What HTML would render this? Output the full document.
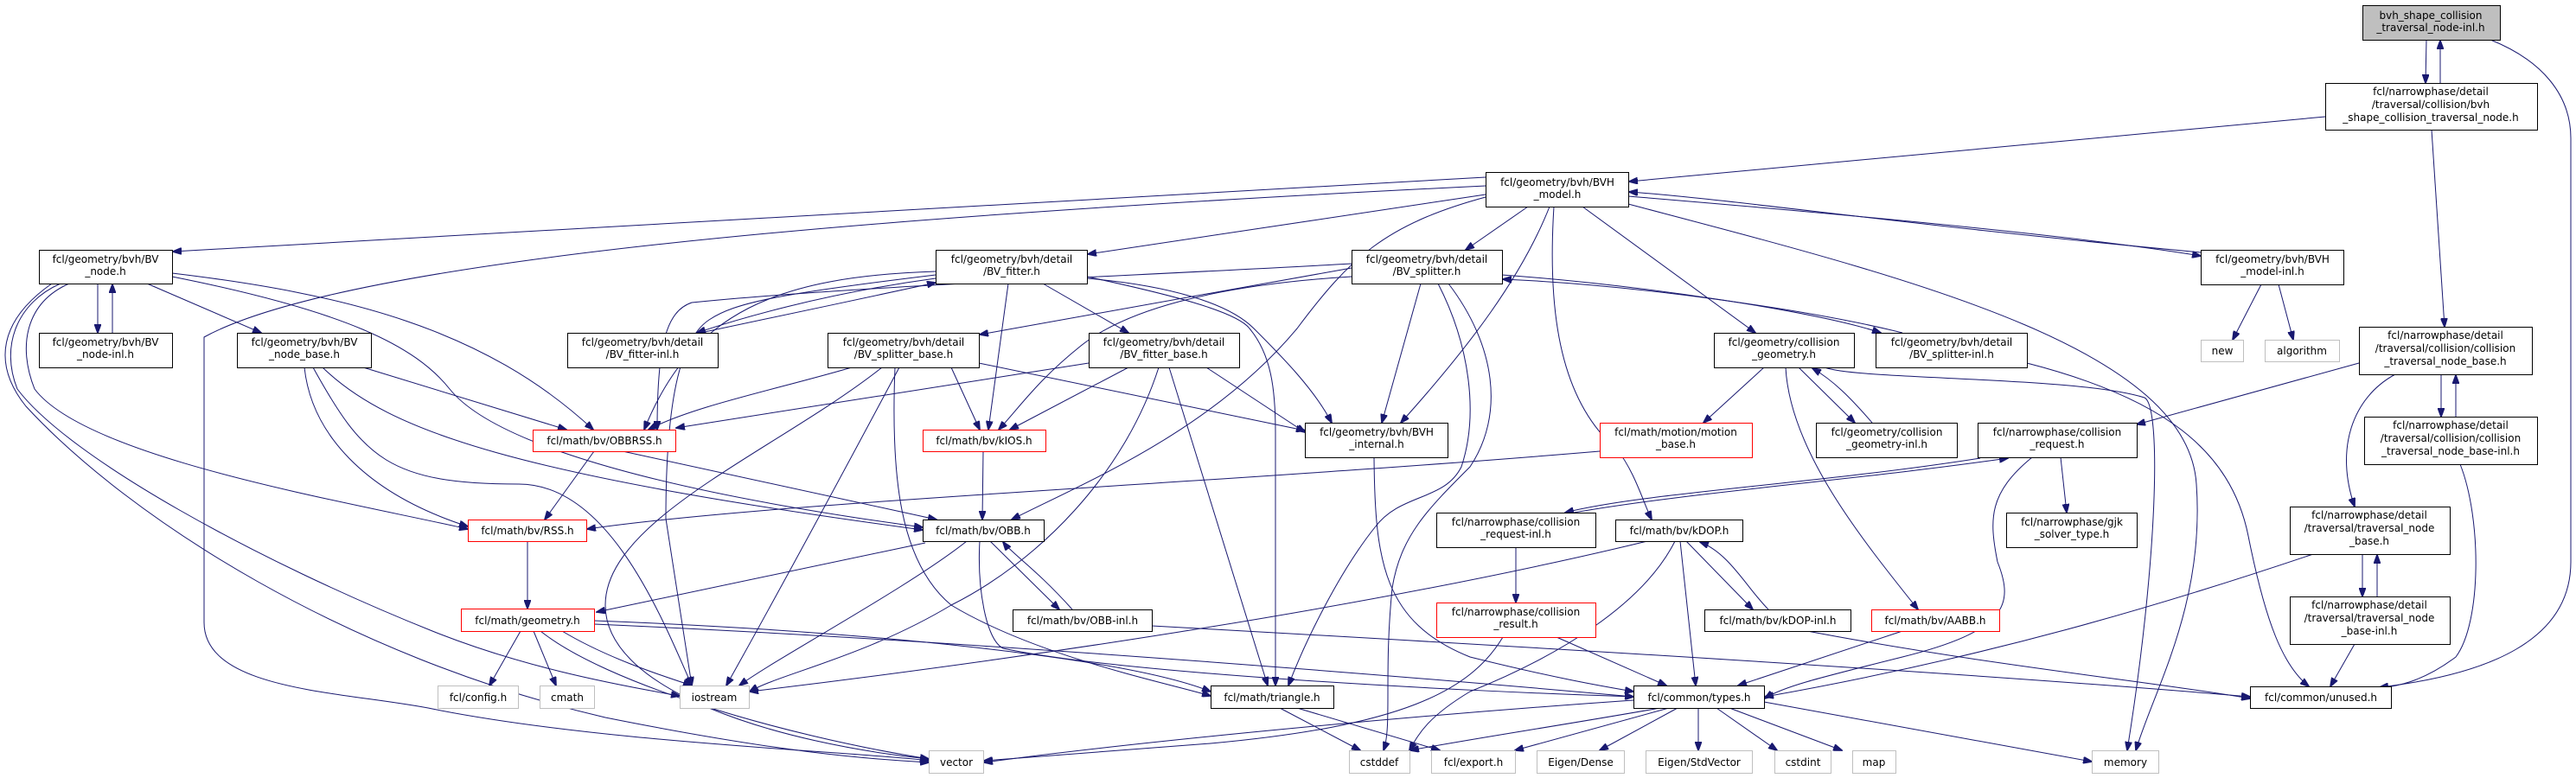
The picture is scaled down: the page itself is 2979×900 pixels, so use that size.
<!DOCTYPE html>
<html><head><meta charset="utf-8"><style>
html,body{margin:0;padding:0;background:#fff;}
svg{display:block;}
text{font-family:"DejaVu Sans","Liberation Sans",sans-serif;font-size:12px;fill:#000;text-anchor:middle;}
.n{fill:#fff;stroke:#000;stroke-width:1;}
.g{fill:#fff;stroke:#bfbfbf;stroke-width:1;}
.r{fill:#fff;stroke:#ff0000;stroke-width:1;}
.e path{fill:none;stroke:#191970;stroke-width:1;marker-end:url(#ah);}
</style></head><body>
<svg width="2979" height="900" viewBox="0 0 2979 900" xmlns="http://www.w3.org/2000/svg">
<defs><marker id="ah" markerUnits="userSpaceOnUse" markerWidth="11" markerHeight="8" refX="10" refY="4" orient="auto"><path d="M0,0 L11,4 L0,8 z" fill="#191970" stroke="#191970"/></marker></defs>
<g class="e">
<path d="M2806 46 L2805 96"/>
<path d="M2822 96 L2822 47"/>
<path d="M2880 46 C2940 70 2973 110 2973 160 L2973 650 C2973 740 2880 780 2752 795"/>
<path d="M2689 135 L1884 210"/>
<path d="M2812 150 L2827 378"/>
<path d="M2728 420 L2471 491"/>
<path d="M2823 433 L2823 482"/>
<path d="M2840 482 L2840 434"/>
<path d="M2770 433 C2720 460 2700 520 2723 586"/>
<path d="M2845 537 C2870 600 2870 720 2840 760 C2800 790 2770 794 2752 796"/>
<path d="M2732 641 L2732 690"/>
<path d="M2749 690 L2749 642"/>
<path d="M2675 641 C2500 700 2300 760 2041 806"/>
<path d="M2723 745 L2695 794"/>
<path d="M2344 420 C2500 460 2580 520 2600 620 C2620 720 2640 770 2670 794"/>
<path d="M2615 329 L2582 393"/>
<path d="M2635 329 L2652 393"/>
<path d="M2545 292 C2200 260 2000 230 1884 222"/>
<path d="M1883 227 C2100 245 2400 272 2545 296"/>
<path d="M2290 530 C2100 560 1900 570 1810 593"/>
<path d="M1820 593 C1950 570 2150 555 2322 530"/>
<path d="M2383 529 L2390 593"/>
<path d="M2350 529 C2300 570 2300 600 2310 650 C2330 700 2320 730 2200 760 C2100 785 2060 795 2041 808"/>
<path d="M1883 236 C2200 320 2530 400 2540 560 C2550 700 2490 800 2470 868"/>
<path d="M2110 425 C2150 440 2400 435 2480 460 C2500 470 2495 650 2460 868"/>
<path d="M2040 812 L2419 881"/>
<path d="M1718 205 L200 291"/>
<path d="M1718 215 C1000 250 400 300 236 390 L236 720 C236 800 400 800 500 820 C700 860 1000 870 1074 880"/>
<path d="M1718 225 L1258 294"/>
<path d="M1767 239 L1695 289"/>
<path d="M1792 239 C1760 320 1700 400 1620 489"/>
<path d="M1797 239 C1790 350 1800 460 1870 520 C1890 545 1900 580 1910 601"/>
<path d="M1830 239 L2030 385"/>
<path d="M1718 228 C1600 260 1560 300 1500 380 C1400 500 1250 560 1170 601"/>
<path d="M113 328 L113 385"/>
<path d="M130 385 L130 329"/>
<path d="M170 328 L302 385"/>
<path d="M199 316 C400 340 560 380 686 497"/>
<path d="M199 320 C400 360 480 400 520 450 C560 500 700 560 1067 610"/>
<path d="M80 328 C30 350 20 400 40 450 C100 530 400 580 541 612"/>
<path d="M70 328 C20 350 0 400 20 450 C80 530 300 650 500 730 C600 770 700 790 786 805"/>
<path d="M60 328 C0 370 -10 420 30 470 C150 600 400 760 700 830 C900 870 1000 878 1074 882"/>
<path d="M420 425 L655 497"/>
<path d="M352 425 C360 500 420 570 541 609"/>
<path d="M373 425 C450 500 600 550 1067 613"/>
<path d="M362 425 C420 530 450 560 600 560 C700 560 760 700 800 793"/>
<path d="M1082 322 C950 340 850 370 806 385"/>
<path d="M810 385 C880 370 1000 345 1082 327"/>
<path d="M1082 314 C900 320 800 360 745 497"/>
<path d="M1206 328 L1305 385"/>
<path d="M1166 328 L1143 497"/>
<path d="M1257 322 C1350 330 1420 350 1450 380 C1480 410 1520 450 1540 489"/>
<path d="M1257 320 C1350 340 1430 360 1445 380 C1470 410 1475 450 1475 500 L1475 793"/>
<path d="M1082 318 C900 340 850 350 820 370 C790 390 770 450 770 600 L800 793"/>
<path d="M1563 310 L1133 387"/>
<path d="M1563 320 C1400 330 1300 360 1250 400 C1200 440 1180 470 1155 497"/>
<path d="M1563 305 C1300 320 1000 330 800 350 C770 360 760 400 760 497"/>
<path d="M1643 328 L1598 489"/>
<path d="M1737 318 C1900 330 2100 360 2175 385"/>
<path d="M2200 385 C2100 360 1900 330 1738 323"/>
<path d="M1663 328 C1700 400 1710 480 1690 540 C1670 580 1620 570 1590 610 C1550 660 1510 740 1490 793"/>
<path d="M1675 328 C1730 400 1740 480 1700 540 C1650 590 1620 620 1610 680 C1600 780 1610 840 1600 868"/>
<path d="M985 425 C900 450 800 470 750 497"/>
<path d="M1100 425 L1133 497"/>
<path d="M1132 420 L1509 498"/>
<path d="M1040 425 C1000 500 920 650 840 793"/>
<path d="M1020 425 C900 520 700 600 700 700 C700 800 900 860 1074 878"/>
<path d="M1035 425 C1030 550 1040 650 1100 700 C1200 760 1350 790 1400 805"/>
<path d="M1259 420 L782 495"/>
<path d="M1305 425 L1168 497"/>
<path d="M1395 425 L1509 500"/>
<path d="M1340 425 C1300 550 1200 650 1100 700 C1000 760 900 780 867 800"/>
<path d="M1352 425 L1466 793"/>
<path d="M720 522 L1083 601"/>
<path d="M687 522 L630 601"/>
<path d="M1137 522 L1136 601"/>
<path d="M1070 628 L690 708"/>
<path d="M1118 626 C1050 680 900 760 855 793"/>
<path d="M1145 626 L1225 705"/>
<path d="M1240 705 C1200 660 1170 640 1160 627"/>
<path d="M1133 626 C1130 680 1140 740 1160 750 C1300 780 1700 800 1889 806"/>
<path d="M1332 724 C1800 750 2300 780 2602 806"/>
<path d="M610 626 L610 704"/>
<path d="M602 730 L566 793"/>
<path d="M617 730 L643 793"/>
<path d="M650 730 C700 760 760 780 800 793"/>
<path d="M625 730 C700 790 900 850 1074 878"/>
<path d="M687 722 C1100 740 1600 780 1889 806"/>
<path d="M687 718 C1000 730 1300 760 1400 800"/>
<path d="M1589 529 C1590 650 1600 720 1700 760 C1800 785 1860 795 1889 800"/>
<path d="M2040 425 L1970 489"/>
<path d="M2065 425 C2070 520 2150 620 2218 705"/>
<path d="M2080 425 L2145 489"/>
<path d="M2165 489 C2140 460 2120 440 2096 426"/>
<path d="M1850 522 C1400 560 900 580 679 612"/>
<path d="M1753 633 L1753 697"/>
<path d="M1800 737 L1927 793"/>
<path d="M1738 737 C1700 800 1620 840 1400 860 L1138 880"/>
<path d="M1950 626 L2027 705"/>
<path d="M2045 705 C2020 680 2000 640 1966 627"/>
<path d="M1943 626 L1961 793"/>
<path d="M1937 626 C1900 700 1800 760 1700 800 C1650 830 1640 850 1630 868"/>
<path d="M1905 626 C1600 700 1200 760 867 800"/>
<path d="M2090 730 C2300 770 2500 790 2602 808"/>
<path d="M2200 730 L2010 793"/>
<path d="M1480 819 L1573 868"/>
<path d="M1500 819 L1665 868"/>
<path d="M1889 810 C1600 830 1300 860 1138 882"/>
<path d="M1920 819 C1800 840 1700 855 1631 868"/>
<path d="M1930 819 L1752 868"/>
<path d="M1940 819 L1850 868"/>
<path d="M1964 819 L1964 868"/>
<path d="M1985 819 L2055 868"/>
<path d="M2000 819 L2130 868"/>
</g>
<g>
<rect x="2732.5" y="6.5" width="159" height="40" fill="#bfbfbf" stroke="#000"/>
<text x="2811" y="22">bvh_shape_collision</text><text x="2811" y="36">_traversal_node-inl.h</text>
<rect class="n" x="2689.5" y="96.5" width="245" height="54"/>
<text x="2811" y="110">fcl/narrowphase/detail</text><text x="2811" y="125">/traversal/collision/bvh</text><text x="2811" y="140">_shape_collision_traversal_node.h</text>
<rect class="n" x="1718.5" y="199.5" width="165" height="40"/>
<text x="1801" y="215">fcl/geometry/bvh/BVH</text><text x="1801" y="229">_model.h</text>
<rect class="n" x="45.5" y="289.5" width="154" height="39"/>
<text x="122" y="304">fcl/geometry/bvh/BV</text><text x="122" y="318">_node.h</text>
<rect class="n" x="45.5" y="385.5" width="154" height="40"/>
<text x="122" y="400">fcl/geometry/bvh/BV</text><text x="122" y="414">_node-inl.h</text>
<rect class="n" x="274.5" y="385.5" width="155" height="40"/>
<text x="352" y="400">fcl/geometry/bvh/BV</text><text x="352" y="414">_node_base.h</text>
<rect class="n" x="1082.5" y="289.5" width="175" height="39"/>
<text x="1170" y="304">fcl/geometry/bvh/detail</text><text x="1170" y="318">/BV_fitter.h</text>
<rect class="n" x="656.5" y="385.5" width="174" height="40"/>
<text x="743" y="400">fcl/geometry/bvh/detail</text><text x="743" y="414">/BV_fitter-inl.h</text>
<rect class="n" x="957.5" y="385.5" width="175" height="40"/>
<text x="1045" y="400">fcl/geometry/bvh/detail</text><text x="1045" y="414">/BV_splitter_base.h</text>
<rect class="n" x="1259.5" y="385.5" width="174" height="40"/>
<text x="1346" y="400">fcl/geometry/bvh/detail</text><text x="1346" y="414">/BV_fitter_base.h</text>
<rect class="n" x="1563.5" y="289.5" width="174" height="39"/>
<text x="1650" y="304">fcl/geometry/bvh/detail</text><text x="1650" y="318">/BV_splitter.h</text>
<rect class="n" x="1509.5" y="489.5" width="165" height="40"/>
<text x="1592" y="504">fcl/geometry/bvh/BVH</text><text x="1592" y="518">_internal.h</text>
<rect class="n" x="1982.5" y="385.5" width="162" height="40"/>
<text x="2063" y="400">fcl/geometry/collision</text><text x="2063" y="414">_geometry.h</text>
<rect class="n" x="2169.5" y="385.5" width="175" height="40"/>
<text x="2257" y="400">fcl/geometry/bvh/detail</text><text x="2257" y="414">/BV_splitter-inl.h</text>
<rect class="n" x="2545.5" y="289.5" width="165" height="40"/>
<text x="2628" y="304">fcl/geometry/bvh/BVH</text><text x="2628" y="318">_model-inl.h</text>
<rect class="g" x="2545.5" y="393.5" width="49" height="25"/><text x="2570" y="410">new</text>
<rect class="g" x="2619.5" y="393.5" width="86" height="25"/><text x="2662" y="410">algorithm</text>
<rect class="n" x="2728.5" y="378.5" width="200" height="55"/>
<text x="2828" y="392">fcl/narrowphase/detail</text><text x="2828" y="407">/traversal/collision/collision</text><text x="2828" y="422">_traversal_node_base.h</text>
<rect class="n" x="2734.5" y="482.5" width="200" height="55"/>
<text x="2834" y="496">fcl/narrowphase/detail</text><text x="2834" y="511">/traversal/collision/collision</text><text x="2834" y="526">_traversal_node_base-inl.h</text>
<rect class="n" x="2287.5" y="489.5" width="184" height="40"/>
<text x="2379" y="504">fcl/narrowphase/collision</text><text x="2379" y="518">_request.h</text>
<rect class="n" x="2320.5" y="593.5" width="151" height="40"/>
<text x="2396" y="608">fcl/narrowphase/gjk</text><text x="2396" y="622">_solver_type.h</text>
<rect class="n" x="2648.5" y="586.5" width="185" height="55"/>
<text x="2740" y="600">fcl/narrowphase/detail</text><text x="2740" y="615">/traversal/traversal_node</text><text x="2740" y="630">_base.h</text>
<rect class="n" x="2648.5" y="690.5" width="185" height="55"/>
<text x="2740" y="704">fcl/narrowphase/detail</text><text x="2740" y="719">/traversal/traversal_node</text><text x="2740" y="734">_base-inl.h</text>
<rect class="n" x="2602.5" y="794.5" width="163" height="25"/><text x="2684" y="811">fcl/common/unused.h</text>
<rect class="g" x="2419.5" y="868.5" width="77" height="26"/><text x="2458" y="886">memory</text>
<rect class="r" x="2164.5" y="705.5" width="148" height="25"/><text x="2238" y="722">fcl/math/bv/AABB.h</text>
<rect class="r" x="616.5" y="497.5" width="165" height="25"/><text x="699" y="514">fcl/math/bv/OBBRSS.h</text>
<rect class="r" x="1067.5" y="497.5" width="142" height="25"/><text x="1138" y="514">fcl/math/bv/kIOS.h</text>
<rect class="n" x="1067.5" y="601.5" width="140" height="25"/><text x="1137" y="618">fcl/math/bv/OBB.h</text>
<rect class="n" x="1171.5" y="705.5" width="161" height="25"/><text x="1252" y="722">fcl/math/bv/OBB-inl.h</text>
<rect class="r" x="541.5" y="601.5" width="137" height="25"/><text x="610" y="618">fcl/math/bv/RSS.h</text>
<rect class="r" x="533.5" y="704.5" width="154" height="26"/><text x="610" y="722">fcl/math/geometry.h</text>
<rect class="g" x="506.5" y="793.5" width="93" height="26"/><text x="553" y="811">fcl/config.h</text>
<rect class="g" x="624.5" y="793.5" width="63" height="26"/><text x="656" y="811">cmath</text>
<rect class="g" x="786.5" y="793.5" width="80" height="26"/><text x="826" y="811">iostream</text>
<rect class="n" x="1400.5" y="793.5" width="142" height="26"/><text x="1471" y="811">fcl/math/triangle.h</text>
<rect class="g" x="1074.5" y="868.5" width="63" height="26"/><text x="1106" y="886">vector</text>
<rect class="r" x="1850.5" y="489.5" width="176" height="40"/>
<text x="1938" y="504">fcl/math/motion/motion</text><text x="1938" y="518">_base.h</text>
<rect class="n" x="2100.5" y="489.5" width="163" height="40"/>
<text x="2182" y="504">fcl/geometry/collision</text><text x="2182" y="518">_geometry-inl.h</text>
<rect class="n" x="1661.5" y="593.5" width="184" height="40"/>
<text x="1753" y="608">fcl/narrowphase/collision</text><text x="1753" y="622">_request-inl.h</text>
<rect class="n" x="1868.5" y="601.5" width="147" height="25"/><text x="1942" y="618">fcl/math/bv/kDOP.h</text>
<rect class="r" x="1661.5" y="697.5" width="184" height="40"/>
<text x="1753" y="712">fcl/narrowphase/collision</text><text x="1753" y="726">_result.h</text>
<rect class="n" x="1971.5" y="705.5" width="169" height="25"/><text x="2056" y="722">fcl/math/bv/kDOP-inl.h</text>
<rect class="n" x="1889.5" y="793.5" width="151" height="26"/><text x="1965" y="811">fcl/common/types.h</text>
<rect class="g" x="1560.5" y="868.5" width="70" height="26"/><text x="1595" y="886">cstddef</text>
<rect class="g" x="1655.5" y="868.5" width="97" height="26"/><text x="1704" y="886">fcl/export.h</text>
<rect class="g" x="1777.5" y="868.5" width="101" height="26"/><text x="1828" y="886">Eigen/Dense</text>
<rect class="g" x="1903.5" y="868.5" width="123" height="26"/><text x="1965" y="886">Eigen/StdVector</text>
<rect class="g" x="2052.5" y="868.5" width="65" height="26"/><text x="2085" y="886">cstdint</text>
<rect class="g" x="2142.5" y="868.5" width="50" height="26"/><text x="2167" y="886">map</text>
</g>
</svg>
</body></html>
